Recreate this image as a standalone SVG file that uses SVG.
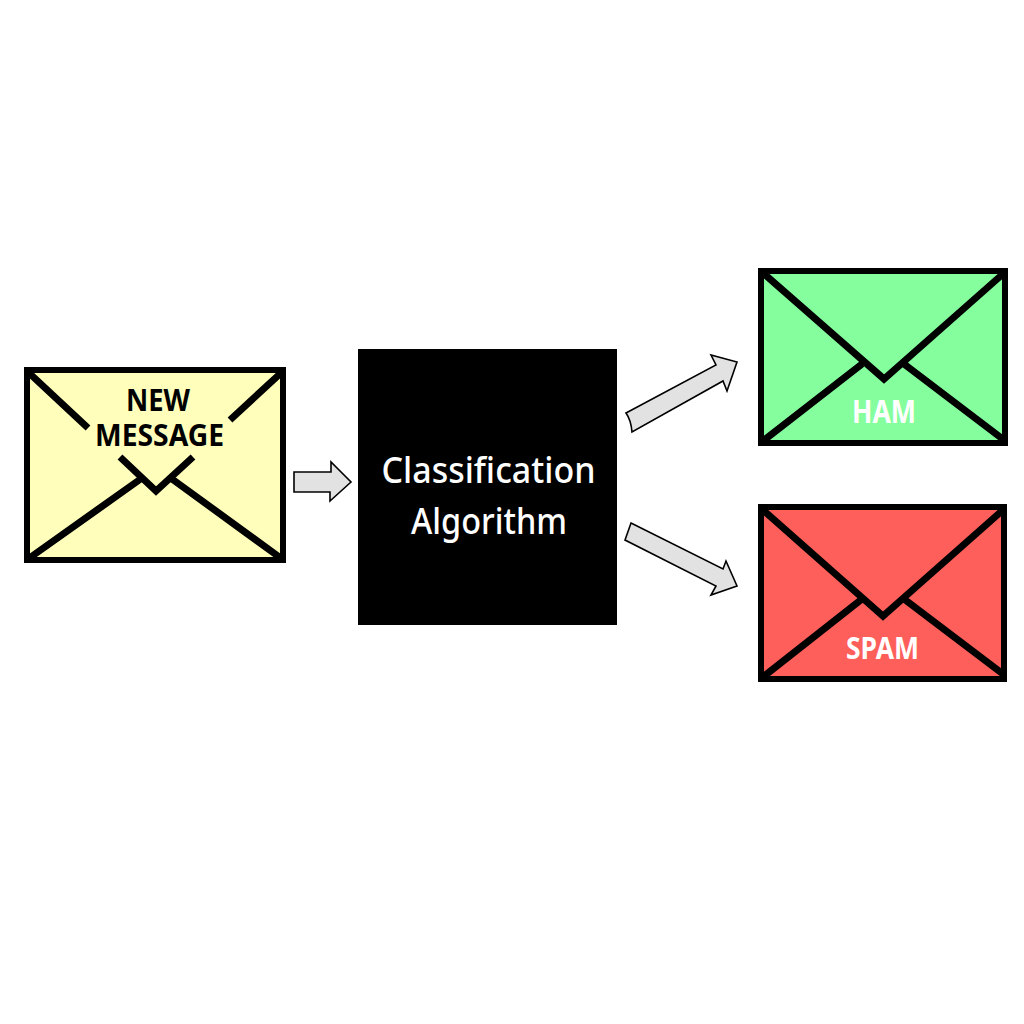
<svg xmlns="http://www.w3.org/2000/svg" width="1024" height="1024" viewBox="0 0 1024 1024">
<style>
.env{stroke:#000;stroke-width:6;stroke-linejoin:miter}
.fold{fill:none;stroke:#000;stroke-width:7;stroke-linecap:butt;stroke-linejoin:miter}
.arrow{fill:#e2e2e2;stroke:#000;stroke-width:1.6;stroke-linejoin:miter}
text{font-family:"Noto Sans","Liberation Sans",sans-serif;text-anchor:middle}
.b{font-weight:700}
.m{font-weight:500}
</style>
<rect width="1024" height="1024" fill="#fff"/>
<g id="connectors">
<path class="arrow" d="M294 472H331V462L351 482L330 501V492H294Z"/>
<path class="arrow" d="M626 413L716 365L711 355L737 362L727 391L723 381L632 432Q631 420 626 413Z"/>
<path class="arrow" d="M631 523L723 569L726 561L737 586L711 595L716 586L625 540Z"/>
</g>
<g id="new-message">
<rect class="env" x="27" y="370" width="256" height="190" fill="#ffffbb"/>
<path class="fold" d="M28 372L88 428M120 457L156 491L193 457M230 420L282 372M28 559L142 478M172 479L282 559"/>
<text class="b" font-size="31"><tspan x="158" y="411" textLength="64" lengthAdjust="spacingAndGlyphs">NEW</tspan><tspan x="159.500" y="446" textLength="129" lengthAdjust="spacingAndGlyphs">MESSAGE</tspan></text>
</g>
<g id="classification-algorithm">
<rect x="358" y="349" width="259" height="276" fill="#000"/>
<text class="m" font-size="37" fill="#fff"><tspan x="488.500" y="483" textLength="214" lengthAdjust="spacingAndGlyphs">Classification</tspan><tspan x="489" y="534" textLength="156" lengthAdjust="spacingAndGlyphs">Algorithm</tspan></text>
</g>
<g id="ham">
<rect class="env" x="761" y="271" width="244" height="172" fill="#85ff9e"/>
<path class="fold" d="M763 273L884 379L1004 273M763 441L862 364M904 364L1004 440"/>
<text class="b" x="884" y="423" font-size="33" fill="#fff" textLength="64" lengthAdjust="spacingAndGlyphs">HAM</text>
</g>
<g id="spam">
<rect class="env" x="761" y="507" width="243" height="172" fill="#ff5f5b"/>
<path class="fold" d="M763 510L883 616L1003 510M763 677L862 599M904 599L1003 674"/>
<text class="b" x="882.500" y="659" font-size="31" fill="#fff" textLength="73" lengthAdjust="spacingAndGlyphs">SPAM</text>
</g>
</svg>
